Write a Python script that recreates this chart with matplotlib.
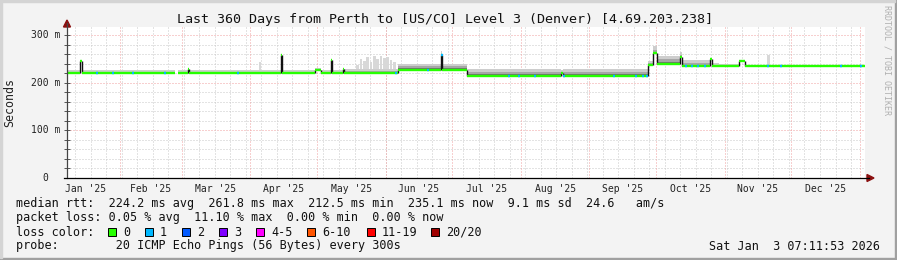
import matplotlib
matplotlib.use("Agg")
import matplotlib.pyplot as plt
import matplotlib.dates as mdates
from matplotlib.lines import Line2D
from matplotlib.patches import Polygon, Rectangle
from datetime import datetime, timedelta

W, H = 897, 260
plt.rcParams['font.family'] = ['DejaVu Sans Mono']

start = datetime(2025, 1, 8, 7, 11, 53)
end = datetime(2026, 1, 3, 7, 11, 53)

# median rtt, piecewise: day offsets from start, values in ms
seg_from = [0, 5.9, 6.6, 50, 54.5, 55, 96.5, 97.2, 112, 114.5,
            119, 119.6, 124.5, 125, 149.3, 168.5, 169.2, 180.4, 223, 223.6,
            262, 264.5, 266, 276.5, 277.6, 290, 290.8, 294, 303, 306]
seg_to = [5.9, 6.6, 48.5, 54.5, 55, 96.5, 97.2, 112, 114.5, 119,
          119.6, 124.5, 125, 149.3, 168.5, 169.2, 180.4, 223, 223.6, 262,
          264.5, 266, 276.5, 277.6, 290, 290.8, 294, 303, 306, 360]
seg_med = [221, 245, 221, 221, 229, 221, 258, 221, 227, 221,
           247, 221, 229, 221, 226.5, 258, 226.5, 213.5, 221, 213.5,
           238, 262, 239, 254, 236, 249, 236, 236, 245, 236]
# smoke (ping spread) layers above the median
smoke_top = [226, 247, 226, 226, 231, 226, 260, 226, 230, 226,
             250, 226, 231, 228, 240, 266, 240, 228, 226, 228,
             246, 276, 256, 264, 247, 252, 242, 239, 248, 238]
smoke_mid = [222.5, 245, 222.5, 222.5, 229, 222.5, 258, 222.5, 228, 222.5,
             247, 222.5, 229, 224, 235, 261, 235, 223, 222, 223,
             242, 268, 249, 258, 241, 250, 238, 237, 246, 237]
smoke_core = [221, 245, 221, 221, 229, 221, 258, 221, 227, 221,
              247, 221, 229, 222, 230, 259, 230, 218.5, 221, 218.5,
              240, 264, 244, 256, 238, 249, 237, 236, 245, 236]

# isolated tall light smoke bars
bar_day = [86.5, 130.5, 132, 133.5, 135, 136.5, 138, 139.5, 141, 142.5,
           144, 145.5, 147, 316]
bar_top = [243, 238, 250, 246, 254, 244, 256, 249, 255, 251,
           253, 247, 243, 258]

# days where the median shows loss colour 1
loss1_day = [13.1, 20.3, 29.3, 43.8, 76.7, 148, 162.4, 168.6, 198.9, 203.4,
             210.6, 223.7, 246.3, 256.2, 259.4, 261.2, 278.9, 281.6, 284.3,
             287.3, 315.7, 321.6, 348.7, 357.7]

months = ["Jan '25", "Feb '25", "Mar '25", "Apr '25", "May '25", "Jun '25",
          "Jul '25", "Aug '25", "Sep '25", "Oct '25", "Nov '25", "Dec '25"]

loss_labels = ['0', '1', '2', '3', '4-5', '6-10', '11-19', '20/20']
loss_colors = ['#26ff00', '#00b8ff', '#0059ff', '#7e00ff', '#ff00ff',
               '#ff5500', '#ff0000', '#a00000']

t0 = mdates.date2num(start)
t1 = mdates.date2num(end)


def fp(x, y):
    return x / W, 1 - y / H


def median_at(day):
    for i in range(len(seg_from)):
        if seg_from[i] <= day < seg_to[i]:
            return seg_med[i]
    return None


fig = plt.figure(figsize=(W / 100, H / 100), dpi=100)
fig.patch.set_facecolor('#f3f3f3')
ax = fig.add_axes([67 / W, 1 - 178 / H, (865 - 67) / W, (178 - 27) / H])
ax.set_facecolor('white')
ax.set_xlim(t0, t1)
ax.set_ylim(0, 316.8)
for s in ax.spines.values():
    s.set_visible(False)

GRID = '#c8c8c8'
MGRID = '#f0a0a0'

# grid
for v in range(20, 320, 20):
    ax.axhline(v, color=MGRID if v % 100 == 0 else GRID, lw=0.72, dashes=(1, 2), zorder=1)
d = datetime(2025, 1, 12)
while d < end:
    ax.axvline(mdates.date2num(d), color=GRID, lw=0.72, dashes=(1, 2), zorder=1)
    d += timedelta(days=7)
month_starts = [datetime(2025, m, 1) for m in range(2, 13)] + [datetime(2026, 1, 1)]
for m in month_starts:
    ax.axvline(mdates.date2num(m), color=MGRID, lw=0.72, dashes=(1, 2), zorder=1)

# smoke
for dd, top in zip(bar_day, bar_top):
    base = median_at(dd)
    ax.bar(t0 + dd, top - base, width=1.2, bottom=base, align='edge',
           color='#d8d8d8', lw=0, zorder=2)
for i in range(len(seg_from)):
    x = t0 + seg_from[i]
    w = seg_to[i] - seg_from[i]
    ax.bar(x, smoke_top[i] - seg_med[i], width=w, bottom=seg_med[i], align='edge',
           color='#cdcdcd', lw=0, zorder=2)
    ax.bar(x, smoke_mid[i] - seg_med[i], width=w, bottom=seg_med[i], align='edge',
           color='#a6a6a6', lw=0, zorder=2)
    ax.bar(x, smoke_core[i] - seg_med[i], width=w, bottom=seg_med[i], align='edge',
           color='#707070', lw=0, zorder=2)

# median line
for i in range(len(seg_from)):
    ax.hlines(seg_med[i], t0 + seg_from[i], t0 + seg_to[i], color=loss_colors[0],
              lw=1.7, zorder=4)
    if i + 1 < len(seg_from) and seg_to[i] == seg_from[i + 1] and seg_med[i] != seg_med[i + 1]:
        ax.vlines(t0 + seg_to[i], seg_med[i], seg_med[i + 1], color='#111111',
                  lw=1.0, zorder=3)
for dd in loss1_day:
    ax.hlines(median_at(dd), t0 + dd, t0 + dd + 0.9, color=loss_colors[1],
              lw=1.7, zorder=5)

# ticks
ax.set_yticks(range(0, 301, 20))
ax.set_yticklabels([])
ax.tick_params(axis='y', length=4, width=0.7, direction='inout', color='#555555')
mid_month = []
for k in range(12):
    a = datetime(2025, k + 1, 1)
    b = datetime(2025, k + 2, 1) if k < 11 else datetime(2026, 1, 1)
    mid_month.append(mdates.date2num(a) + (mdates.date2num(b) - mdates.date2num(a)) / 2)
ax.set_xticks(mid_month)
ax.set_xticklabels(months, fontsize=7, color='#222222')
ax.tick_params(axis='x', length=0, pad=4)

ylabels = ['0', '100 m', '200 m', '300 m']
for k, lbl in enumerate(ylabels):
    off = -19 if lbl == '0' else -7
    ax.annotate(lbl, xy=(0, k * 100), xycoords=('axes fraction', 'data'),
                xytext=(off, 0), textcoords='offset pixels', ha='right', va='center',
                fontsize=7, color='#222222')

# axes with arrows
fig.add_artist(Line2D([67 / W, 67 / W], [1 - 178 / H, 1 - 23 / H], color='#444444', lw=0.9))
fig.add_artist(Line2D([64 / W, 869 / W], [1 - 178 / H, 1 - 178 / H], color='#000000', lw=0.9))
fig.add_artist(Polygon([fp(63.5, 27), fp(70.5, 27), fp(67, 20)], closed=True,
                       color='#8b1010', transform=fig.transFigure))
fig.add_artist(Polygon([fp(867, 174.5), fp(867, 181.5), fp(874, 178)], closed=True,
                       color='#8b1010', transform=fig.transFigure))

# frame
fig.add_artist(Rectangle((0, 0), 1, 2 / H, color='#a0a0a0', transform=fig.transFigure))
fig.add_artist(Rectangle((1 - 2 / W, 0), 2 / W, 1, color='#a0a0a0', transform=fig.transFigure))
fig.add_artist(Rectangle((0, 1 - 2 / H), 1 - 2 / W, 2 / H, color='#d4d4d4', transform=fig.transFigure))
fig.add_artist(Rectangle((0, 2 / H), 2 / W, 1 - 4 / H, color='#d4d4d4', transform=fig.transFigure))

# texts
fig.text(*fp(445, 19), "Last 360 Days from Perth to [US/CO] Level 3 (Denver) [4.69.203.238]",
         ha='center', va='center', fontsize=9.6, color='#111111')
fig.text(*fp(10, 103), 'Seconds', rotation=90, ha='center', va='center',
         fontsize=8.4, color='#222222')
fig.text(*fp(887, 60), 'RRDTOOL / TOBI OETIKER', rotation=270, ha='center', va='center',
         fontsize=6, color='#b0b0b0')

FS = 8.5
fig.text(*fp(16, 204), "median rtt:  224.2 ms avg  261.8 ms max  212.5 ms min  235.1 ms now  9.1 ms sd  24.6   am/s",
         ha='left', va='center', fontsize=FS, color='#111111')
fig.text(*fp(16, 218), "packet loss: 0.05 % avg  11.10 % max  0.00 % min  0.00 % now",
         ha='left', va='center', fontsize=FS, color='#111111')
fig.text(*fp(16, 232), "loss color:", ha='left', va='center', fontsize=FS, color='#111111')
text_x = [123, 160, 197, 234, 271, 322, 382, 446]
for tx, lbl, c in zip(text_x, loss_labels, loss_colors):
    fig.add_artist(Rectangle(fp(tx - 15, 236), 8 / W, 8 / H, facecolor=c, edgecolor='#000000',
                             lw=0.7, transform=fig.transFigure))
    fig.text(*fp(tx, 232), lbl, ha='left', va='center', fontsize=FS, color='#111111')
fig.text(*fp(16, 246), "probe:        20 ICMP Echo Pings (56 Bytes) every 300s",
         ha='left', va='center', fontsize=FS, color='#111111')
fig.text(*fp(880, 246), "Sat Jan  3 07:11:53 2026", ha='right', va='center',
         fontsize=FS, color='#111111')

fig.savefig('out.png', dpi=100, facecolor=fig.get_facecolor())
